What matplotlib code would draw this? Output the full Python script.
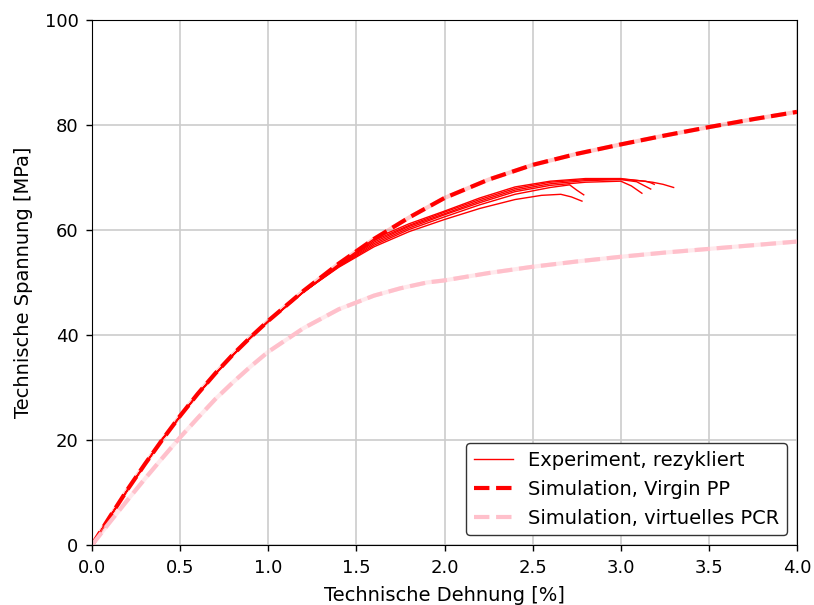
import matplotlib
matplotlib.use("Agg")
from matplotlib import pyplot as plt

# Simulation, Virgin PP
virgin_strain = [0.0, 0.1, 0.2, 0.3, 0.4, 0.5, 0.6, 0.7, 0.8, 0.9, 1.0, 1.2, 1.4, 1.6, 1.8,
                 2.0, 2.25, 2.5, 2.75, 3.0, 3.25, 3.5, 3.75, 4.0]
virgin_stress = [0.0, 5.3, 10.5, 15.4, 20.1, 24.6, 28.8, 32.7, 36.3, 39.6, 42.7, 48.4, 53.6, 58.3, 62.4,
                 66.1, 69.6, 72.4, 74.5, 76.3, 78.0, 79.6, 81.1, 82.5]

# Simulation, virtuelles PCR
pcr_strain = [0.0, 0.1, 0.2, 0.3, 0.4, 0.5, 0.6, 0.7, 0.8, 0.9, 1.0, 1.2, 1.4, 1.6, 1.75, 1.9,
              2.0, 2.25, 2.5, 2.75, 3.0, 3.25, 3.5, 3.75, 4.0]
pcr_stress = [0.0, 4.3, 8.5, 12.6, 16.6, 20.5, 24.2, 27.8, 31.0, 34.0, 36.8, 41.3, 44.9, 47.5, 48.9, 50.0,
              50.4, 51.8, 53.0, 54.0, 54.9, 55.7, 56.4, 57.1, 57.8]

# Experiment, rezykliert (common start + individual specimens)
exp_start_strain = [0.0, 0.1, 0.2, 0.3, 0.4, 0.5, 0.6, 0.7, 0.8, 0.9, 1.0, 1.2]
exp_start_stress = [0.0, 5.3, 10.4, 15.3, 20.2, 24.5, 28.7, 32.6, 36.2, 39.5, 42.6, 48.2]

exp_strain_a = [1.4, 1.6, 1.8, 2.0, 2.2, 2.4, 2.55, 2.66, 2.72, 2.78]
exp_stress_a = [52.9, 56.8, 59.7, 62.0, 64.1, 65.8, 66.6, 66.8, 66.3, 65.5]
exp_strain_b = [1.4, 1.6, 1.8, 2.0, 2.2, 2.4, 2.6, 2.71, 2.75, 2.79]
exp_stress_b = [53.0, 57.1, 60.1, 62.5, 64.8, 66.8, 68.1, 68.6, 67.6, 66.7]
exp_strain_c = [1.4, 1.6, 1.8, 2.0, 2.2, 2.4, 2.6, 2.8, 3.0, 3.06, 3.12]
exp_stress_c = [53.1, 57.4, 60.4, 62.9, 65.2, 67.3, 68.5, 69.1, 69.3, 68.4, 67.0]
exp_strain_d = [1.4, 1.6, 1.8, 2.0, 2.2, 2.4, 2.6, 2.8, 3.0, 3.09, 3.13, 3.17]
exp_stress_d = [53.2, 57.7, 60.7, 63.1, 65.5, 67.6, 68.8, 69.4, 69.6, 69.2, 68.5, 67.8]
exp_strain_e = [1.4, 1.6, 1.8, 2.0, 2.2, 2.4, 2.6, 2.8, 3.0, 3.14, 3.17, 3.19]
exp_stress_e = [53.3, 58.0, 60.9, 63.4, 65.8, 67.9, 69.1, 69.6, 69.7, 69.3, 69.0, 68.7]
exp_strain_f = [1.4, 1.6, 1.8, 2.0, 2.2, 2.4, 2.6, 2.8, 3.0, 3.18, 3.24, 3.30]
exp_stress_f = [53.5, 58.3, 61.2, 63.6, 66.1, 68.2, 69.3, 69.8, 69.8, 69.1, 68.7, 68.1]

x_ticks = [0.0, 0.5, 1.0, 1.5, 2.0, 2.5, 3.0, 3.5, 4.0]
y_ticks = [0, 20, 40, 60, 80, 100]

plt.rcParams['font.size'] = 14

fig = plt.figure(figsize=(8.14, 6.05), dpi=100)
ax = fig.add_axes([92 / 814, 1 - 545 / 605, (797 - 92) / 814, (545 - 20) / 605])

specimens = [(exp_strain_a, exp_stress_a), (exp_strain_b, exp_stress_b), (exp_strain_c, exp_stress_c),
             (exp_strain_d, exp_stress_d), (exp_strain_e, exp_stress_e), (exp_strain_f, exp_stress_f)]
for i, (s, t) in enumerate(specimens):
    ax.plot(exp_start_strain + s, exp_start_stress + t, color='red', linewidth=1.0,
            label='Experiment, rezykliert' if i == 0 else None)

# faint solid underlay + dashed curve for each simulation
ax.plot(virgin_strain, virgin_stress, color='red', linewidth=3, alpha=0.2)
ax.plot(virgin_strain, virgin_stress, color='red', linewidth=3, linestyle='--',
        label='Simulation, Virgin PP')
ax.plot(pcr_strain, pcr_stress, color='pink', linewidth=3, alpha=0.35)
ax.plot(pcr_strain, pcr_stress, color='pink', linewidth=3, linestyle='--',
        label='Simulation, virtuelles PCR')

ax.set_xlim(0, 4.0)
ax.set_ylim(0, 100)
ax.set_xticks(x_ticks)
ax.set_yticks(y_ticks)
ax.tick_params(labelsize=13, length=4.3, width=1.0, pad=5.5)
ax.grid(True, color='#cccccc', linewidth=1.2)
ax.set_axisbelow(True)
ax.set_xlabel('Technische Dehnung [%]', labelpad=7)
ax.set_ylabel('Technische Spannung [MPa]', labelpad=8)
ax.legend(loc='lower right', edgecolor='#333333', framealpha=1.0)

fig.savefig('out.png', dpi=100)
